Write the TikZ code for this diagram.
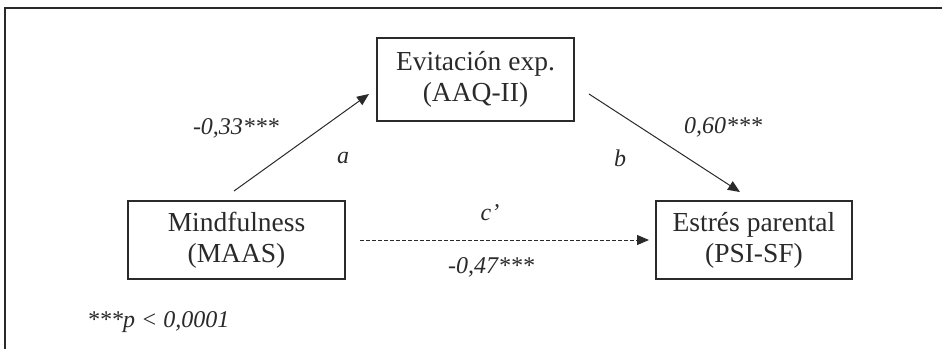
\documentclass[tikz,border=0pt]{standalone}
\usepackage{fontspec}
\setmainfont{Liberation Serif}
\usetikzlibrary{arrows.meta}
\definecolor{ink}{HTML}{2A2A2A}
\tikzset{
  x=1pt, y=-1pt,
  varbox/.style={draw=ink, line width=1.1pt, rectangle, align=center, inner sep=0pt,
    font=\fontsize{27.5}{31}\selectfont, text=ink},
  lbl/.style={font=\fontsize{24}{28}\selectfont\itshape, text=ink, inner sep=0pt},
  path arrow/.style={draw=ink, line width=1pt, -{Triangle[length=12pt,width=10pt]}},
}
\begin{document}
\begin{tikzpicture}
\useasboundingbox (0,0) rectangle (942,349);
\fill[white] (0,0) rectangle (942,349);
% frame
\coordinate (fbl) at (5,349);
\coordinate (ftl) at (5,8);
\coordinate (ftr) at (942,8);
\draw[ink, line width=1.3pt] (fbl) -- (ftl) -- (ftr);
% boxes
\node[varbox, minimum width=217pt, minimum height=78pt] (mind) at (236.5,240) {Mindfulness\\(MAAS)};
\node[varbox, minimum width=197pt, minimum height=83pt] (evit) at (475.5,79.5) {Evitación exp.\\(AAQ-II)};
\node[varbox, minimum width=196pt, minimum height=78pt] (estr) at (754,240) {Estrés parental\\(PSI-SF)};
% arrow endpoints
\coordinate (aS) at (234,191);
\coordinate (aE) at (369,94);
\coordinate (bS) at (589,94);
\coordinate (bE) at (740,192);
\coordinate (cS) at (360,240);
\coordinate (cE) at (649,240);
\draw[path arrow] (aS) -- (aE);
\draw[path arrow] (bS) -- (bE);
\draw[path arrow, dash pattern=on 3.5pt off 2.5pt] (cS) -- (cE);
% labels
\node[lbl] (la) at (236,128) {-0,33***};
\node[lbl] (a) at (343,158) {a};
\node[lbl] (b) at (620,158) {b};
\node[lbl] (lb) at (723,127) {0,60***};
\node[lbl] (c) at (490,213) {c’};
\node[lbl] (lc) at (491,267) {-0,47***};
\node[lbl, anchor=west] (note) at (87,322) {***p < 0,0001};
\end{tikzpicture}
\end{document}
